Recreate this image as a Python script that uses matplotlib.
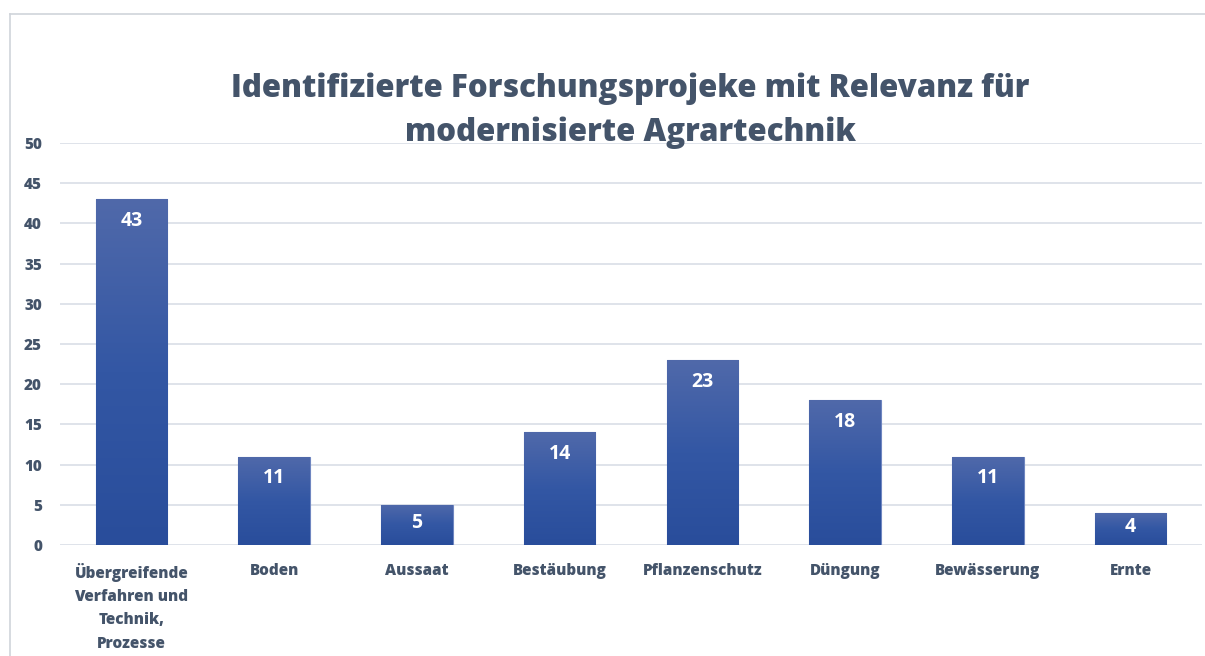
import numpy as np
import matplotlib.pyplot as plt
from matplotlib.colors import LinearSegmentedColormap
from matplotlib.lines import Line2D

kategorien = ['Übergreifende\nVerfahren und\nTechnik,\nProzesse', 'Boden', 'Aussaat',
              'Bestäubung', 'Pflanzenschutz', 'Düngung', 'Bewässerung', 'Ernte']
anzahl = [43, 11, 5, 14, 23, 18, 11, 4]
titel = 'Identifizierte Forschungsprojeke mit Relevanz für\nmodernisierte Agrartechnik'

tekst_kleur = '#44546A'
grid_kleur = '#D9DEE6'

plt.rcParams['font.family'] = ['Open Sans', 'DejaVu Sans']

fig = plt.figure(figsize=(12.05, 6.56), dpi=100)
ax = fig.add_axes([0.0498, 0.1692, 0.9477, 0.6128])

x = np.arange(len(anzahl))
bars = ax.bar(x, anzahl, width=0.5, color='#2F529F', edgecolor='#6F86C0', linewidth=0.8, zorder=2)

# verloop in de balken: boven lichter, onder donkerder
cmap = LinearSegmentedColormap.from_list('verloop', ['#294D9B', '#3357A4', '#5069AA'])
grad = np.linspace(0, 1, 256).reshape(-1, 1)
for b in bars:
    bx, by = b.get_x(), b.get_y()
    w, h = b.get_width(), b.get_height()
    im = ax.imshow(grad, cmap=cmap, aspect='auto', origin='lower',
                   extent=[bx, bx + w, by, by + h], zorder=2.5)
    im.set_clip_path(b)

# waarde binnen de balk, bij kleine balken in het midden
for xi, v in zip(x, anzahl):
    ax.text(xi, max(v - 2.7, v * 0.55), str(v), ha='center', va='center', color='white',
            fontsize=14, fontweight='bold', zorder=3)

ax.set_xlim(-0.5, len(anzahl) - 0.5)
ax.set_ylim(0, 50)
ax.set_yticks(np.arange(0, 51, 5))
ax.set_xticks(x)
ax.set_xticklabels(kategorien, fontsize=11, fontweight='heavy', color=tekst_kleur,
                   linespacing=1.6, va='top')
for lab in ax.get_yticklabels():
    lab.set_fontsize(11)
    lab.set_fontweight('heavy')
    lab.set_color(tekst_kleur)
ax.tick_params(axis='both', length=0)
ax.tick_params(axis='x', pad=13)
ax.tick_params(axis='y', pad=13)
ax.yaxis.grid(True, color=grid_kleur, linewidth=1.2, zorder=0)
ax.set_axisbelow(True)
for s in ax.spines.values():
    s.set_visible(False)

fig.text(0.523, 1 - 111 / 656, titel, ha='center', va='center', fontsize=22.5,
         fontweight='heavy', color=tekst_kleur, linespacing=1.45)

# lichte rand rond de grafiek
fig.add_artist(Line2D([10 / 1205, 1], [1 - 14 / 656, 1 - 14 / 656], color='#D0D4DA', linewidth=1.2))
fig.add_artist(Line2D([10 / 1205, 10 / 1205], [0, 1 - 14 / 656], color='#D0D4DA', linewidth=1.2))

fig.savefig('out.png', dpi=100)
